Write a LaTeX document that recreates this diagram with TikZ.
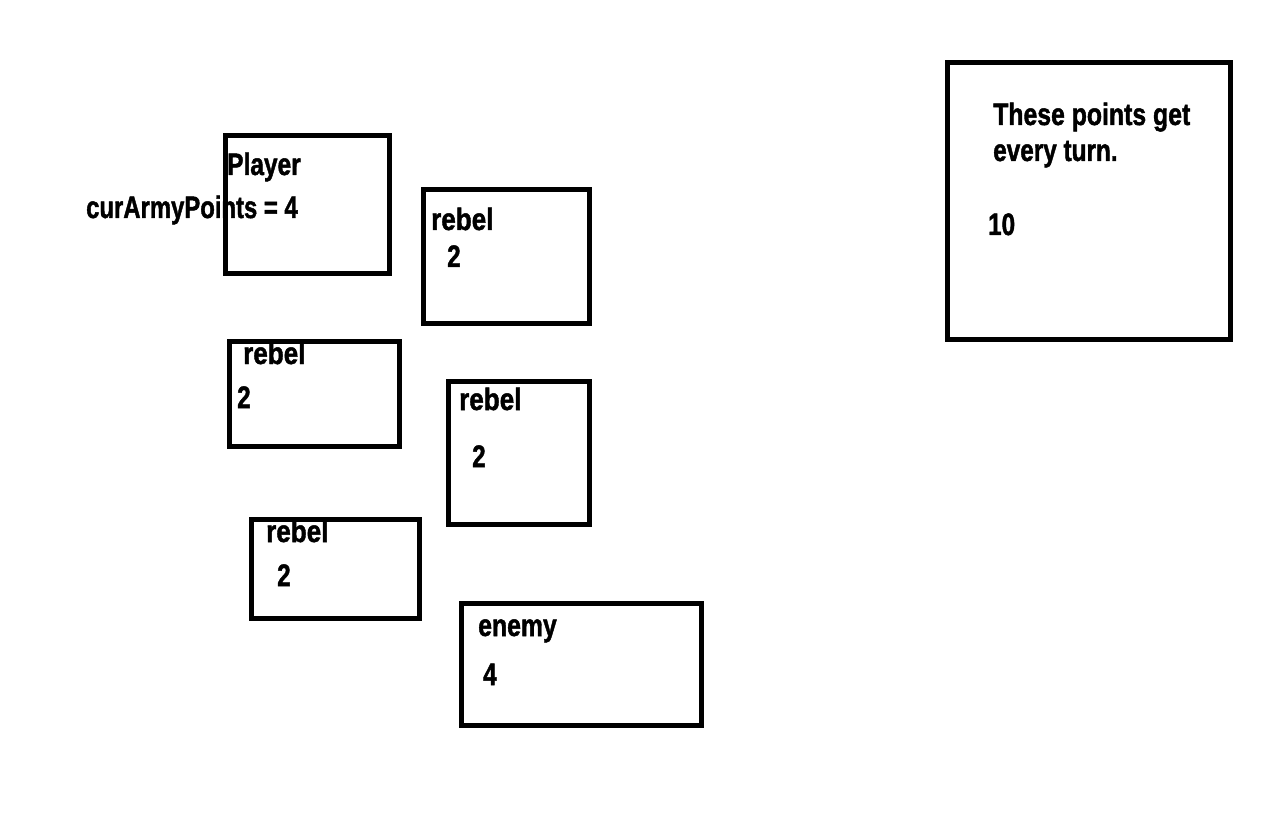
\documentclass[tikz,border=0pt]{standalone}
\usepackage{fontspec}
\setmainfont{Liberation Sans}
\newfontfamily\heavy[FakeBold=1.6,UprightFont={* Bold}]{Liberation Sans}
\tikzset{
  box/.style={draw=black, line width=5pt, rectangle, inner sep=0pt, outer sep=0pt, anchor=north west, fill=none},
  lbl/.style={inner sep=0pt, anchor=base west, font=\fontsize{31}{36}\heavy, text=black},
}
\newcommand{\nar}[2][0.78]{\scalebox{#1}[1]{#2}}
\begin{document}
\begin{tikzpicture}[x=1pt,y=-1pt]
\useasboundingbox[fill=white] (0,0) rectangle (1274,818);
% boxes
\node[box, minimum width=164pt, minimum height=138pt] (player) at (225.5,135.5) {};
\node[box, minimum width=166pt, minimum height=134pt] (rebelA) at (423.5,189.5) {};
\node[box, minimum width=170pt, minimum height=105pt] (rebelB) at (229.5,341.5) {};
\node[box, minimum width=141.5pt, minimum height=143pt] (rebelC) at (448,381.5) {};
\node[box, minimum width=168pt, minimum height=99pt] (rebelD) at (251.5,519.5) {};
\node[box, minimum width=240pt, minimum height=122pt] (enemy) at (461.5,603.5) {};
\node[box, minimum width=283pt, minimum height=277pt] (info) at (947.5,62.5) {};
% texts
\node[lbl] (tplayer) at (227,175) {\nar[0.79]{Player}};
\node[lbl] (tcur) at (86,218) {\nar[0.77]{curArmyPoints = 4}};
\node[lbl] (tA) at (431,230) {\nar[0.84]{rebel}};
\node[lbl] (nA) at (447,267) {\nar{2}};
\node[lbl] (tB) at (243,364) {\nar[0.84]{rebel}};
\node[lbl] (nB) at (237,408) {\nar{2}};
\node[lbl] (tC) at (459,410) {\nar[0.84]{rebel}};
\node[lbl] (nC) at (472,467) {\nar{2}};
\node[lbl] (tD) at (266,542) {\nar[0.84]{rebel}};
\node[lbl] (nD) at (277,586) {\nar{2}};
\node[lbl] (tE) at (478,636) {\nar[0.80]{enemy}};
\node[lbl] (nE) at (483,685) {\nar{4}};
\node[lbl] (ti1) at (993,125) {\nar[0.80]{These points get}};
\node[lbl] (ti2) at (993,161) {\nar[0.785]{every turn.}};
\node[lbl] (ni) at (988,235) {\nar{10}};
\end{tikzpicture}
\end{document}
